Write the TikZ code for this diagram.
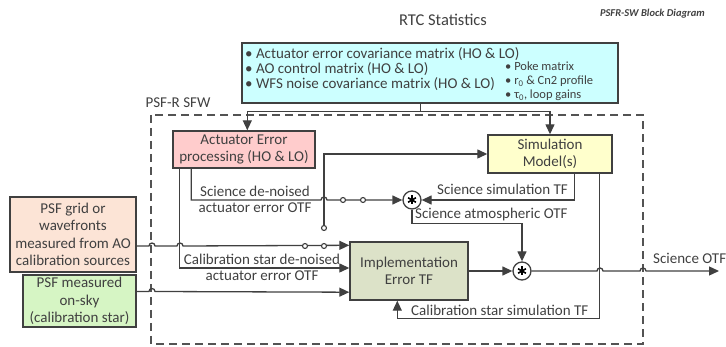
\documentclass[tikz,border=0pt]{standalone}
\usepackage{fontspec}
\setmainfont{Carlito}
\usetikzlibrary{arrows.meta,calc}
\definecolor{ink}{HTML}{404040}
\definecolor{rtcfill}{HTML}{CCFFFF}
\definecolor{actfill}{HTML}{FFCCCC}
\definecolor{simfill}{HTML}{FFFFCC}
\definecolor{implfill}{HTML}{DCE2C8}
\definecolor{gridfill}{HTML}{FCE4D6}
\definecolor{skyfill}{HTML}{D6F5C4}
\tikzset{
  box/.style={draw=ink, line width=1.4pt, inner sep=0pt, align=center, text=ink,
              font=\fontsize{15}{17.5}\selectfont},
  conn/.style={draw=ink, line width=1.3pt},
  arr/.style={-{Triangle[length=10pt,width=9pt]}},
  lbl/.style={text=ink, inner sep=0pt, font=\fontsize{15}{17}\selectfont},
  rtcl/.style={text=ink, inner sep=0pt, anchor=west, font=\fontsize{15}{15}\selectfont},
  rtcr/.style={text=ink, inner sep=0pt, anchor=west, font=\fontsize{12.5}{12.5}\selectfont},
  mult/.style={circle, draw=ink, line width=1.3pt, fill=white, minimum size=18pt, inner sep=0pt},
  contact/.style={circle, draw=ink, line width=1.1pt, fill=white, minimum size=5pt, inner sep=0pt},
  star/.style={draw=black, line width=1.6pt},
}
\newcommand{\multstar}[1]{%
  \draw[star] ($(#1)+(0,-4.5)$) -- ($(#1)+(0,4.5)$);
  \draw[star] ($(#1)+(-3.9,-2.25)$) -- ($(#1)+(3.9,2.25)$);
  \draw[star] ($(#1)+(-3.9,2.25)$) -- ($(#1)+(3.9,-2.25)$);}
\begin{document}
\begin{tikzpicture}[x=1pt,y=-1pt]
\useasboundingbox (0,0) rectangle (726,347);

% title
\node[text=ink, inner sep=0pt, anchor=east, font=\fontsize{10.5}{12}\bfseries\itshape\selectfont] (title) at (705,14) {PSFR-SW Block Diagram};
\node[text=ink, inner sep=0pt, font=\fontsize{16.5}{18}\selectfont] (rtct) at (443,20) {RTC Statistics};

% RTC box
\node[box, fill=rtcfill, minimum width=376pt, minimum height=60pt] (rtc) at (430,73) {};
\node[rtcl] (r1) at (245,54) {\textbullet\ Actuator error covariance matrix (HO \& LO)};
\node[rtcl] (r2) at (245,69) {\textbullet\ AO control matrix (HO \& LO)};
\node[rtcl] (r3) at (245,84) {\textbullet\ WFS noise covariance matrix (HO \& LO)};
\node[rtcr] (r4) at (505,66) {\textbullet\ Poke matrix};
\node[rtcr] (r5) at (505,81) {\textbullet\ r\textsubscript{0} \& Cn2 profile};
\node[rtcr] (r6) at (505,95) {\textbullet\ τ\textsubscript{0}, loop gains};

% PSF-R SFW frame
\draw[draw=ink!90, line width=1.3pt, dash pattern=on 8pt off 5pt] (151,115) rectangle (643,344);
\node[lbl] (sfw) at (178,103) {PSF-R SFW};

% blocks
\node[box, fill=actfill, minimum width=142pt, minimum height=37pt] (act) at (244,149.5) {Actuator Error\\processing (HO \& LO)};
\node[box, fill=simfill, minimum width=124pt, minimum height=38pt] (sim) at (550,154) {Simulation\\Model(s)};
\node[box, fill=implfill, minimum width=118pt, minimum height=58pt] (impl) at (409,271) {Implementation\\Error TF};
\node[box, fill=gridfill, minimum width=126pt, minimum height=75pt] (grid) at (73,234.5) {PSF grid or\\wavefronts\\measured from AO\\calibration sources};
\node[box, fill=skyfill, minimum width=113pt, minimum height=52pt] (sky) at (79.5,301) {PSF measured\\on-sky\\(calibration star)};
\node[mult] (m1) at (412,200) {};
\node[mult] (m2) at (522,271) {};
\multstar{m1}
\multstar{m2}

% RTC distribution
\coordinate (st) at ($(rtc.south west)+(179,8)$);
\draw[conn] ($(rtc.south west)+(179,0)$) -- (st);
\draw[conn,arr] (st) -| ($(act.north west)+(75,0)$);
\draw[conn,arr] (st) -| (sim.north);

% switch arm to simulation model
\coordinate (pivot) at (324,228);
\draw[conn,arr] (pivot) |- (sim.west);

% science de-noised actuator error OTF
\draw[conn,arr] ($(act.south west)+(19,0)$) |- (321,200) arc[start angle=180,end angle=360,radius=3] -- (m1.west);
\node[lbl] (l1a) at (255,191) {Science de-noised};
\node[lbl] (l1b) at (255,208) {actuator error OTF};

% calibration star de-noised actuator error OTF
\draw[conn,arr] ($(act.south west)+(7,0)$) |- ($(impl.west)+(0,-3)$);
\node[lbl] (l2a) at (262,259.5) {Calibration star de-noised};
\node[lbl] (l2b) at (262,276) {actuator error OTF};

% PSF grid -> implementation
\draw[conn,arr] ($(grid.east)+(0,11.5)$) -- (149,246) arc[start angle=180,end angle=360,radius=3]
   -- (177,246) arc[start angle=180,end angle=360,radius=3] -- ($(impl.north west)+(0,4)$);

% PSF on sky -> implementation
\draw[conn,arr] ($(sky.east)+(0,-9.5)$) -- (149,291.5) arc[start angle=180,end angle=360,radius=3] -- ($(impl.south west)+(0,-8.5)$);

% switch contacts
\node[contact] (c1) at (343,200) {};
\node[contact] (c2) at (363,200) {};
\node[contact] (c3) at (305,246) {};
\node[contact] (c4) at (324,246) {};
\node[contact] (c5) at (pivot) {};

% science simulation TF
\draw[conn,arr] ($(sim.south west)+(87,0)$) |- (m1.east);
\node[lbl, anchor=east] (l3) at (568,189) {Science simulation TF};

% science atmospheric OTF
\draw[conn,arr] (m1.south) -- ++(0,14) -| (m2.north);
\node[lbl, anchor=west] (l4) at (415,215) {Science atmospheric OTF};

% calibration star simulation TF
\coordinate (cs) at ($(sim.south west)+(112,0)$);
\draw[conn,arr] (cs) -- ++(0,145) -| ($(impl.south west)+(48,0)$);
\node[lbl, anchor=west] (l5) at (411,310) {Calibration star simulation TF};

% implementation -> m2 -> output
\draw[conn,arr] (impl.east) -- (m2.west);
\coordinate (out) at (719,271);
\draw[conn,arr] (m2.east) -- (597,271) arc[start angle=180,end angle=360,radius=3]
   -- (640,271) arc[start angle=180,end angle=360,radius=3] -- (out);
\node[lbl, anchor=west] (l6) at (653,258) {Science OTF};
\end{tikzpicture}
\end{document}
